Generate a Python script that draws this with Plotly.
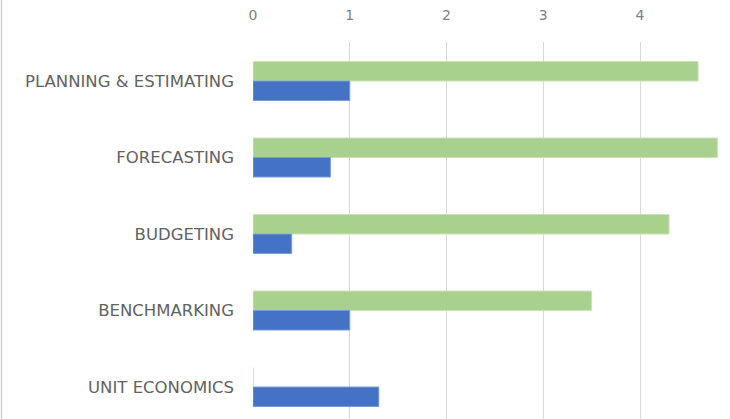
import plotly.graph_objects as go

categories = ["PLANNING & ESTIMATING", "FORECASTING", "BUDGETING", "BENCHMARKING", "UNIT ECONOMICS"]
green_values = [4.6, 4.8, 4.3, 3.5, 0]
blue_values = [1.0, 0.8, 0.4, 1.0, 1.3]
x_ticks = [0, 1, 2, 3, 4]

fig = go.Figure()
fig.add_trace(go.Bar(y=categories, x=green_values, orientation="h",
                     marker=dict(color="#A9D18E", line=dict(color="#C9E4B6", width=1)),
                     name="Series 2"))
fig.add_trace(go.Bar(y=categories, x=blue_values, orientation="h",
                     marker=dict(color="#4472C4", line=dict(color="#7A9BD8", width=1)),
                     name="Series 1"))

W, H = 730, 419
L, R, T, B = 253, 0, 42, 0
pw = W - L - R

fig.update_layout(
    width=W, height=H,
    margin=dict(l=L, r=R, t=T, b=B),
    paper_bgcolor="white", plot_bgcolor="white",
    barmode="group", bargap=0.49, bargroupgap=0,
    showlegend=False,
    font=dict(family="DejaVu Sans", color="#595959", size=12),
    xaxis=dict(side="top", range=[0, 4.93], tickvals=x_ticks,
               showgrid=True, gridcolor="#D9D9D9", gridwidth=1.3,
               zeroline=False, showline=False, ticks="",
               ticklabelstandoff=18, tickfont=dict(size=14, color="#7F7F7F")),
    yaxis=dict(categoryorder="array", categoryarray=categories,
               range=[4.418, -0.51], showgrid=False, zeroline=False,
               showline=False, ticks="", ticklabelstandoff=18,
               tickfont=dict(size=16.5, color="#626262")),
    shapes=[dict(type="line", xref="paper", yref="paper",
                 x0=-(L - 1.5) / pw, x1=-(L - 1.5) / pw, y0=0, y1=1.12,
                 line=dict(color="#D0D0D0", width=1.5))],
)
fig.write_html("out.html", config={"displayModeBar": False},
               post_script="document.body.style.margin='0';document.body.style.overflow='hidden';")
